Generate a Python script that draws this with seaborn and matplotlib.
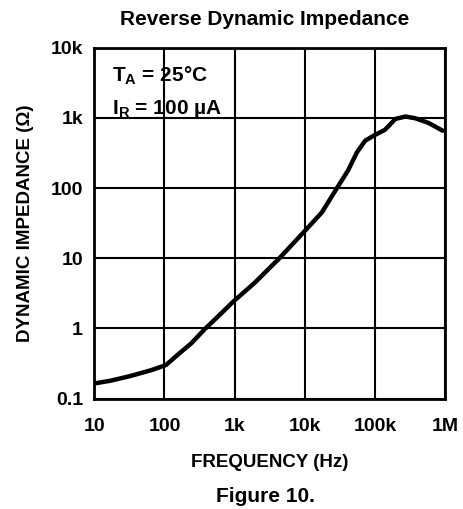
import matplotlib
matplotlib.use("Agg")
import matplotlib.pyplot as plt
import matplotlib.ticker as mticker
import pandas as pd
import seaborn as sns

# values
freq_hz = [10, 17.3, 33, 65, 105, 154, 240, 372, 575, 950, 1940, 4200, 10000,
           17400, 28000, 41000, 55000, 72000, 100000, 138000, 194000, 270000,
           373000, 575000, 910000]
impedance_ohm = [0.164, 0.18, 0.21, 0.254, 0.30, 0.42, 0.61, 0.97, 1.47, 2.4,
                 4.5, 9.7, 24.6, 45, 97, 178, 324, 475, 575, 680, 970, 1050,
                 990, 850, 660]

x_ticks = [10, 100, 1e3, 1e4, 1e5, 1e6]
x_labels = ["10", "100", "1k", "10k", "100k", "1M"]
y_ticks = [0.1, 1, 10, 100, 1e3, 1e4]
y_labels = ["0.1", "1", "10", "100", "1k", "10k"]

df = pd.DataFrame({"f": freq_hz, "z": impedance_ohm})

sns.set_style("white")
plt.rcParams["font.family"] = ["Liberation Sans", "DejaVu Sans"]
plt.rcParams["text.color"] = "black"
plt.rcParams["axes.labelcolor"] = "black"
plt.rcParams["xtick.color"] = "black"
plt.rcParams["ytick.color"] = "black"

fig = plt.figure(figsize=(4.64, 5.09), dpi=100)
ax = fig.add_axes([0.203, 0.217, 0.757, 0.689])

sns.lineplot(data=df, x="f", y="z", ax=ax, color="black", linewidth=3.2)
for ln in ax.get_lines():
    ln.set_solid_joinstyle("round")
    ln.set_solid_capstyle("round")
ax.set_xscale("log")
ax.set_yscale("log")
ax.set_xlim(10, 1e6)
ax.set_ylim(0.1, 1e4)

ax.xaxis.set_major_locator(mticker.FixedLocator(x_ticks))
ax.xaxis.set_major_formatter(mticker.FixedFormatter(x_labels))
ax.yaxis.set_major_locator(mticker.FixedLocator(y_ticks))
ax.yaxis.set_major_formatter(mticker.FixedFormatter(y_labels))
ax.xaxis.set_minor_locator(mticker.NullLocator())
ax.yaxis.set_minor_locator(mticker.NullLocator())
ax.tick_params(axis="both", which="major", length=3, width=1.5, direction="out",
               labelsize=14)
ax.tick_params(axis="x", pad=11)
ax.tick_params(axis="y", pad=5)
for lab in ax.get_xticklabels() + ax.get_yticklabels():
    lab.set_fontweight("bold")

ax.grid(True, color="black", linewidth=1.5)
for s in ax.spines.values():
    s.set_color("black")
    s.set_linewidth(2)

ax.set_xlabel("FREQUENCY (Hz)", fontsize=13.5, fontweight="bold", labelpad=14)
ax.set_ylabel("DYNAMIC IMPEDANCE (\u03a9)", fontsize=13.5, fontweight="bold", labelpad=12)

ax.text(0.05, 0.92, "T$_\\mathregular{A}$ = 25\u00b0C", transform=ax.transAxes,
        fontsize=15, fontweight="bold", va="center")
ax.text(0.05, 0.825, "I$_\\mathregular{R}$ = 100 \u00b5A", transform=ax.transAxes,
        fontsize=15, fontweight="bold", va="center")

fig.text(0.571, 0.962, "Reverse Dynamic Impedance", ha="center", va="center",
         fontsize=15, fontweight="bold")
fig.text(0.571, 0.025, "Figure 10.", ha="center", va="center",
         fontsize=15, fontweight="bold")

fig.savefig("out.png", dpi=100)
